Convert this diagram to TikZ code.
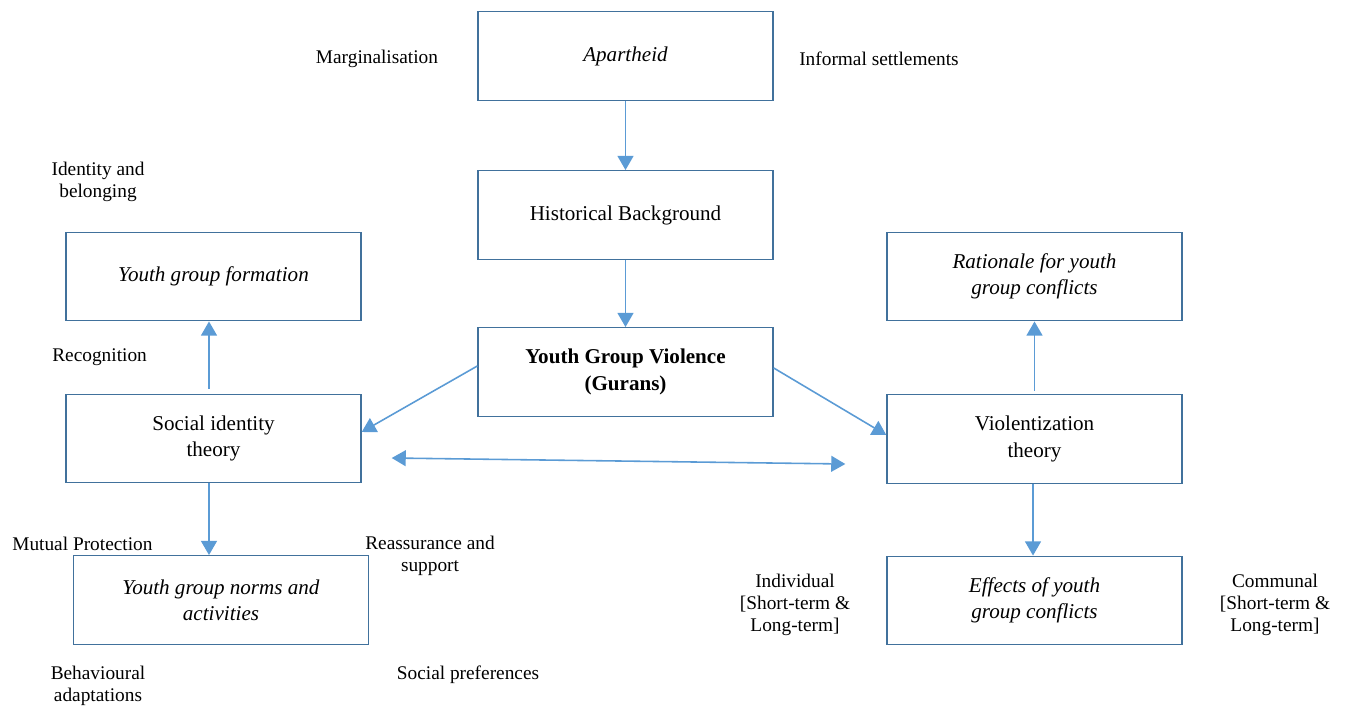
\documentclass[tikz,border=0pt]{standalone}
\usepackage{fontspec}
\setmainfont{Liberation Serif}
\usetikzlibrary{arrows.meta}
\definecolor{boxline}{HTML}{41719C}
\definecolor{arrowblue}{HTML}{5B9BD5}
\begin{document}
\begin{tikzpicture}[
    box/.style={rectangle, draw=boxline, line width=0.8pt, minimum width=5.9cm, minimum height=1.77cm, align=center, font=\fontsize{12}{15}\selectfont},
    note/.style={align=center, font=\fontsize{11}{12.5}\selectfont, inner sep=0pt},
    flow/.style={draw=arrowblue, line width=0.9pt, -{Triangle[width=9pt,length=8pt]}}
]
\useasboundingbox (0,0) rectangle (26.94,-14.12);

\node[box] (apartheid) at (12.51,-1.12) {\textit{Apartheid}};
\node[box] (history) at (12.51,-4.3) {Historical Background};
\node[box] (violence) at (12.51,-7.44) {\textbf{Youth Group Violence}\\\textbf{(Gurans)}};
\node[box] (formation) at (4.27,-5.53) {\textit{Youth group formation}};
\node[box] (socid) at (4.27,-8.77) {Social identity\\theory};
\node[box] (norms) at (4.42,-12.0) {\textit{Youth group norms and}\\\textit{activities}};
\node[box] (rationale) at (20.69,-5.53) {\textit{Rationale for youth}\\\textit{group conflicts}};
\node[box] (violent) at (20.69,-8.78) {Violentization\\theory};
\node[box] (effects) at (20.69,-12.01) {\textit{Effects of youth}\\\textit{group conflicts}};

% side notes
\node[note] (margin) at (7.54,-1.17) {Marginalisation};
\node[note] (informal) at (17.58,-1.18) {Informal settlements};
\node[note] (identity) at (1.96,-3.64) {Identity and\\belonging};
\node[note, anchor=west] (recog) at (1.04,-7.15) {Recognition};
\node[note, anchor=west] (mutual) at (0.24,-10.87) {Mutual Protection};
\node[note] (reassure) at (8.6,-11.12) {Reassurance and\\support};
\node[note] (behav) at (1.96,-13.72) {Behavioural\\adaptations};
\node[note] (prefs) at (9.36,-13.5) {Social preferences};
\node[note] (indiv) at (15.9,-12.09) {Individual\\{}[Short-term \&\\Long-term]};
\node[note] (communal) at (25.5,-12.09) {Communal\\{}[Short-term \&\\Long-term]};

\coordinate (linkL) at ([xshift=0.6cm,yshift=-0.39cm]socid.east);
\coordinate (linkR) at ([xshift=-0.82cm,yshift=-0.5cm]violent.west);

% connectors
\draw[flow] (apartheid) -- (history);
\draw[flow] (history) -- (violence);
\draw[flow] ([yshift=0.12cm]violence.west) -- ([yshift=0.13cm]socid.east);
\draw[flow] ([yshift=0.08cm]violence.east) -- ([yshift=0.08cm]violent.west);
\draw[flow] ([xshift=-0.09cm,yshift=0.1cm]socid.north) -- ([xshift=-0.09cm]socid.north |- formation.south);
\draw[flow] ([xshift=-0.09cm]socid.south) -- ([xshift=-0.09cm]socid.south |- norms.north);
\draw[flow] ([yshift=0.06cm]violent.north) -- (rationale.south);
\draw[flow] ([xshift=-0.03cm]violent.south) -- ([xshift=-0.03cm]effects.north);
\draw[flow, {Triangle[width=9pt,length=8pt]}-{Triangle[width=9pt,length=8pt]}] (linkL) -- (linkR);

\end{tikzpicture}
\end{document}
